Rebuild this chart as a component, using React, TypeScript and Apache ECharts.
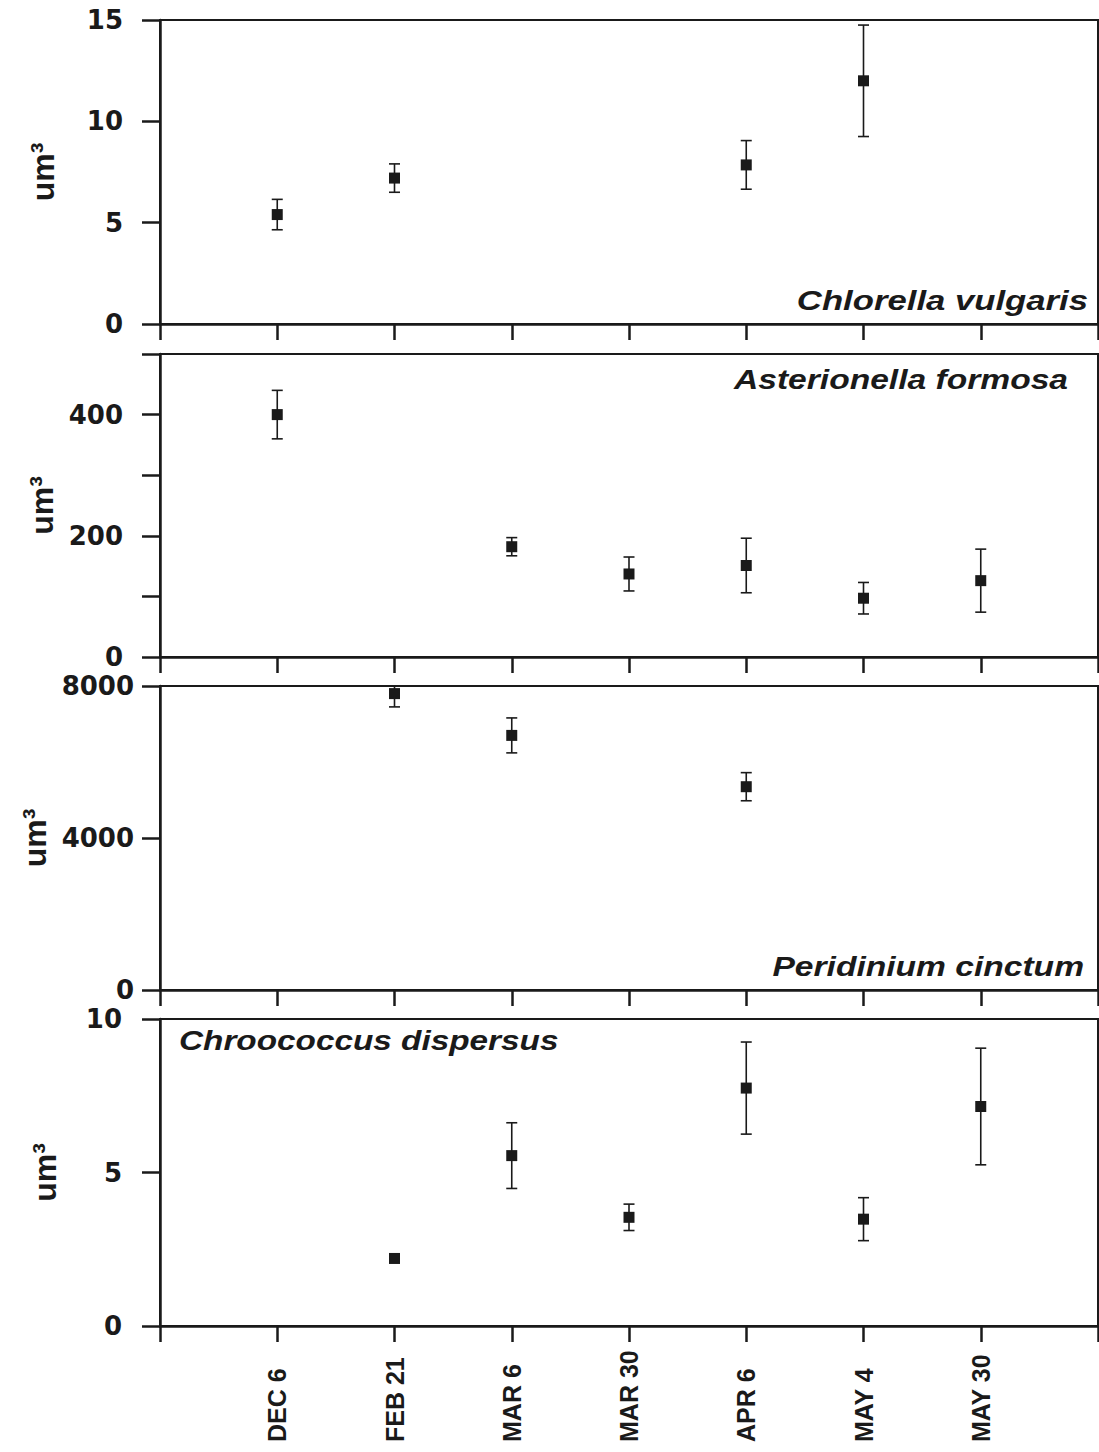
import React, { useEffect, useRef } from 'react';
import * as echarts from 'echarts';

// Sampling dates (x positions 1..7; 0 and 8 are the empty ends of the axis)
const sampleDates = ['DEC 6', 'FEB 21', 'MAR 6', 'MAR 30', 'APR 6', 'MAY 4', 'MAY 30'];

// Mean cell volume (um³) and error (±) per sampling date; null = not sampled
const chlorellaMean = [5.4, 7.2, null, null, 7.85, 12.0, null];
const chlorellaErr = [0.75, 0.7, null, null, 1.2, 2.75, null];

const asterionellaMean = [400, null, 182, 137, 151, 97, 126];
const asterionellaErr = [40, null, 15, 28, 45, 26, 52];

const peridiniumMean = [null, 7800, 6700, null, 5350, null, null];
const peridiniumErr = [null, 350, 460, null, 370, null, null];

const chroococcusMean = [null, 2.2, 5.55, 3.54, 7.75, 3.48, 7.15];
const chroococcusErr = [null, null, 1.07, 0.43, 1.5, 0.7, 1.9];

const speciesNames = [
  'Chlorella vulgaris',
  'Asterionella formosa',
  'Peridinium cinctum',
  'Chroococcus dispersus',
];

// Y-axis scales per panel
const yMaxes = [15, 500, 8000, 10];
const yTickSteps = [5, 100, 4000, 5];
const yLabelSteps = [5, 200, 4000, 5];

const means = [chlorellaMean, asterionellaMean, peridiniumMean, chroococcusMean];
const errs = [chlorellaErr, asterionellaErr, peridiniumErr, chroococcusErr];

// Layout
const WIDTH = 1099;
const HEIGHT = 1452;
const PLOT_LEFT = 160;
const PLOT_WIDTH = 938;
const INK = '#1a1a1a';

const panelLayout = [
  { top: 20, height: 304, labelMargin: 37, nameGap: 101, tag: { x: 1088, y: 300, align: 'right', scaleX: 1.24 } },
  { top: 354, height: 303, labelMargin: 37, nameGap: 99, tag: { x: 1068, y: 379, align: 'right', scaleX: 1.2 } },
  { top: 686, height: 304, labelMargin: 26, nameGap: 109, tag: { x: 1084, y: 966, align: 'right', scaleX: 1.2 } },
  { top: 1019, height: 307, labelMargin: 38, nameGap: 99, tag: { x: 179, y: 1040, align: 'left', scaleX: 1.19 } },
];

const errorBarItem = (params: any, api: any) => {
  const x = api.value(0);
  const v = api.value(1);
  const e = api.value(2);
  const cs = params.coordSys;
  const top = api.coord([x, v + e]);
  const bottom = api.coord([x, v - e]);
  const yTop = cs.y;
  const yBottom = cs.y + cs.height;
  const cap = 5.5;
  const style = { stroke: INK, lineWidth: 1.6 };
  const y1 = Math.max(top[1], yTop);
  const y2 = Math.min(bottom[1], yBottom);
  const children: any[] = [
    { type: 'line', shape: { x1: top[0], y1, x2: top[0], y2 }, style },
  ];
  if (top[1] >= yTop) {
    children.push({ type: 'line', shape: { x1: top[0] - cap, y1: top[1], x2: top[0] + cap, y2: top[1] }, style });
  }
  if (bottom[1] <= yBottom) {
    children.push({ type: 'line', shape: { x1: bottom[0] - cap, y1: bottom[1], x2: bottom[0] + cap, y2: bottom[1] }, style });
  }
  return { type: 'group', children };
};

function buildOption() {
  const grid: any[] = [];
  const xAxis: any[] = [];
  const yAxis: any[] = [];
  const series: any[] = [];
  const graphic: any[] = [];

  panelLayout.forEach((p, i) => {
    grid.push({
      left: PLOT_LEFT,
      top: p.top,
      width: PLOT_WIDTH,
      height: p.height,
      show: true,
      borderColor: INK,
      borderWidth: 2,
      backgroundColor: 'transparent',
    });

    const isBottom = i === panelLayout.length - 1;
    xAxis.push({
      type: 'value',
      gridIndex: i,
      min: 0,
      max: 8,
      interval: 1,
      axisLine: { show: true, onZero: false, lineStyle: { color: INK, width: 2.5 } },
      axisTick: { show: true, length: 16, lineStyle: { color: INK, width: 2.5 } },
      splitLine: { show: false },
      axisLabel: {
        show: isBottom,
        rotate: 90,
        align: 'left',
        verticalAlign: 'middle',
        margin: 116,
        color: INK,
        fontFamily: "'Liberation Sans', Arial, sans-serif",
        fontWeight: 'bold',
        fontSize: 25,
        formatter: (v: number) => sampleDates[v - 1] ?? '',
      },
    });

    const step = yLabelSteps[i];
    yAxis.push({
      type: 'value',
      gridIndex: i,
      min: 0,
      max: yMaxes[i],
      interval: yTickSteps[i],
      name: 'um³',
      nameLocation: 'middle',
      nameGap: p.nameGap,
      nameTextStyle: {
        color: INK,
        fontFamily: "'Liberation Sans', Arial, sans-serif",
        fontWeight: 'bold',
        fontSize: 32,
      },
      axisLine: { show: true, onZero: false, lineStyle: { color: INK, width: 2.5 } },
      axisTick: { show: true, length: 18, lineStyle: { color: INK, width: 2.5 } },
      splitLine: { show: false },
      axisLabel: {
        margin: p.labelMargin,
        color: INK,
        fontFamily: "'DejaVu Sans', sans-serif",
        fontWeight: 'bold',
        fontSize: 26,
        formatter: (v: number) => (v % step === 0 ? String(v) : ''),
      },
    });

    const pts: any[] = [];
    const bars: any[] = [];
    means[i].forEach((m, k) => {
      if (m == null) return;
      pts.push([k + 1, m]);
      const e = errs[i][k];
      if (e != null && e > 0) bars.push([k + 1, m, e]);
    });

    series.push({
      type: 'custom',
      xAxisIndex: i,
      yAxisIndex: i,
      renderItem: errorBarItem,
      encode: { x: 0, y: 1 },
      data: bars,
      z: 3,
    });
    series.push({
      type: 'scatter',
      xAxisIndex: i,
      yAxisIndex: i,
      symbol: 'rect',
      symbolSize: 11,
      itemStyle: { color: INK, opacity: 1 },
      data: pts,
      z: 4,
    });

    graphic.push({
      type: 'text',
      x: p.tag.x,
      y: p.tag.y,
      scaleX: p.tag.scaleX,
      z: 10,
      style: {
        text: speciesNames[i],
        fill: INK,
        font: "italic bold 28px 'Liberation Sans', Arial, sans-serif",
        align: p.tag.align,
        verticalAlign: 'middle',
      },
    });
  });

  return {
    animation: false,
    backgroundColor: '#ffffff',
    grid,
    xAxis,
    yAxis,
    series,
    graphic,
  };
}

export default function App() {
  const ref = useRef<HTMLDivElement>(null);

  useEffect(() => {
    if (!ref.current) return;
    const chart = echarts.init(ref.current, undefined, { renderer: 'svg' });
    chart.setOption(buildOption() as any);
    return () => chart.dispose();
  }, []);

  return (
    <div
      ref={ref}
      style={{ position: 'absolute', left: 0, top: 0, width: WIDTH, height: HEIGHT, background: '#fff' }}
    />
  );
}
